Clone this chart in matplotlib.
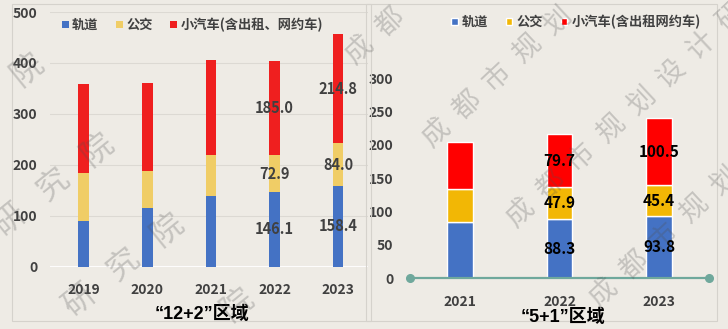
import matplotlib
matplotlib.use('Agg')
import matplotlib.pyplot as plt
from matplotlib.patches import Rectangle

plt.rcParams['font.family'] = ['Noto Sans CJK SC', 'DejaVu Sans']

# left panel: "12+2" area
years_a = ['2019', '2020', '2021', '2022', '2023']
rail_a = [90, 115, 138, 146.1, 158.4]
bus_a = [93, 72, 81, 72.9, 84.0]
car_a = [176, 174, 187, 185.0, 214.8]
labelled_a = ['2022', '2023']

# right panel: "5+1" area
years_b = ['2021', '2022', '2023']
rail_b = [84, 88.3, 93.8]
bus_b = [50, 47.9, 45.4]
car_b = [70, 79.7, 100.5]
labelled_b = ['2022', '2023']

series_a = ['轨道', '公交', '小汽车(含出租、网约车)']
series_b = ['轨道', '公交', '小汽车(含出租网约车)']
title_a = '“12+2”区域'
title_b = '“5+1”区域'
watermark = '成都市规划设计研究院'

BG = '#eeebe5'
TXT = '#404040'
W, H = 728, 329

fig = plt.figure(figsize=(W / 100, H / 100), dpi=100, facecolor=BG)


def px_axes(x0, y0, x1, y1):
    # pixel box (top-left origin) -> figure fraction
    return fig.add_axes([x0 / W, 1 - y1 / H, (x1 - x0) / W, (y1 - y0) / H])


def stack(ax, years, values, colors, width, edge, labelled, lcolor, lsize, names):
    bottom = [0] * len(years)
    x = list(range(len(years)))
    for vals, c, name in zip(values, colors, names):
        bars = ax.bar(x, vals, width, bottom=bottom, color=c, label=name,
                      edgecolor=edge, linewidth=1 if edge else 0, zorder=2)
        labels = [f'{v:.1f}' if y in labelled else '' for y, v in zip(years, vals)]
        ax.bar_label(bars, labels=labels, label_type='center', color=lcolor,
                     fontsize=lsize, fontweight='bold')
        bottom = [b + v for b, v in zip(bottom, vals)]
    ax.set_xticks(x, years)


# panel frames
fig.add_artist(Rectangle((12 / W, 1 - 321 / H), 359 / W, 317 / H, transform=fig.transFigure,
                         fill=False, edgecolor='#d5d2cc', lw=0.8))
fig.add_artist(Rectangle((366 / W, 1 - 321 / H), 351 / W, 317 / H, transform=fig.transFigure,
                         fill=False, edgecolor='#d5d2cc', lw=0.8))

# ---- left chart
ax1 = px_axes(50, 12, 368, 266.7)
ax1.set_facecolor('none')
stack(ax1, years_a, [rail_a, bus_a, car_a], ['#4472c4', '#f0cd66', '#ef1f1f'],
      0.168, None, labelled_a, TXT, 10.5, series_a)
ax1.set_xlim(-0.53, 4.47)
ax1.set_ylim(0, 500)
ax1.set_yticks(range(0, 501, 100))
ax1.grid(axis='y', color='#dcd9d3', lw=0.8, zorder=0)
ax1.axhline(0, color='white', lw=1.5, zorder=1)
ax1.tick_params(length=0, labelsize=10, labelcolor=TXT)
ax1.tick_params(axis='y', pad=9)
ax1.tick_params(axis='x', pad=12)
for lab in ax1.get_xticklabels() + ax1.get_yticklabels():
    lab.set_fontweight('bold')
for s in ax1.spines.values():
    s.set_visible(False)
ax1.legend(ncol=3, loc='center left', bbox_to_anchor=(62 / W, 1 - 25 / H),
           bbox_transform=fig.transFigure, frameon=False,
           prop={'size': 9.5, 'weight': 'bold'}, labelcolor=TXT,
           handlelength=0.5, handleheight=0.5, handletextpad=0.25,
           columnspacing=1.35, borderpad=0, borderaxespad=0)
fig.text(202 / W, 1 - 314 / H, title_a, ha='center', va='center',
         fontsize=13, fontweight='bold', color='black',
         family=['Liberation Sans', 'Noto Sans CJK SC'])

# ---- right chart
ax2 = px_axes(410, 10, 709, 278.3)
ax2.set_facecolor('none')
stack(ax2, years_b, [rail_b, bus_b, car_b], ['#4472c4', '#f2b705', '#ff0000'],
      0.26, 'white', labelled_b, 'black', 11, series_b)
ax2.set_xlim(-0.5, 2.5)
ax2.set_ylim(0, 402.4)
ax2.set_yticks(range(0, 301, 50))
ax2.plot([0, 1], [0, 0], transform=ax2.get_yaxis_transform(), color='#6fa89c',
         lw=1.6, marker='o', ms=5.5, clip_on=False, zorder=3)
ax2.tick_params(length=0, labelsize=10, labelcolor=TXT)
ax2.tick_params(axis='y', pad=12)
ax2.tick_params(axis='x', pad=12)
for lab in ax2.get_xticklabels() + ax2.get_yticklabels():
    lab.set_fontweight('bold')
for s in ax2.spines.values():
    s.set_visible(False)
ax2.legend(ncol=3, loc='center left', bbox_to_anchor=(451 / W, 1 - 22 / H),
           bbox_transform=fig.transFigure, frameon=False,
           prop={'size': 9.5, 'weight': 'bold'}, labelcolor=TXT,
           handlelength=0.5, handleheight=0.5, handletextpad=0.3,
           columnspacing=1.35, borderpad=0, borderaxespad=0)
fig.text(563 / W, 1 - 317 / H, title_b, ha='center', va='center',
         fontsize=13, fontweight='bold', color='black',
         family=['Liberation Sans', 'Noto Sans CJK SC'])


# ---- watermark, placed character by character along diagonals
def wm_line(x, y, dx, dy, count, size, angle):
    for i in range(count):
        cx, cy = x + i * dx, y + i * dy
        # skip characters that would fall wholly outside the picture
        if not (-6 < cx < W + 6 and -6 < cy < H + 6):
            continue
        fig.text(cx / W, 1 - cy / H, watermark[i % len(watermark)], rotation=angle,
                 ha='center', va='center', fontsize=size, color='#505050',
                 alpha=0.26, zorder=5)


for x, y in [(27, 70), (97, 150), (167, 230), (237, 305)]:
    # lines ending with 院
    wm_line(x - 9 * 43.5, y + 9 * 35, 43.5, -35, 10, 23, 39)
for x, y in [(360, 50), (437, 133), (521, 213), (604, 293)]:
    wm_line(x, y, 30, -28, 10, 20, 43)

fig.savefig('out.png', dpi=100, facecolor=BG)
